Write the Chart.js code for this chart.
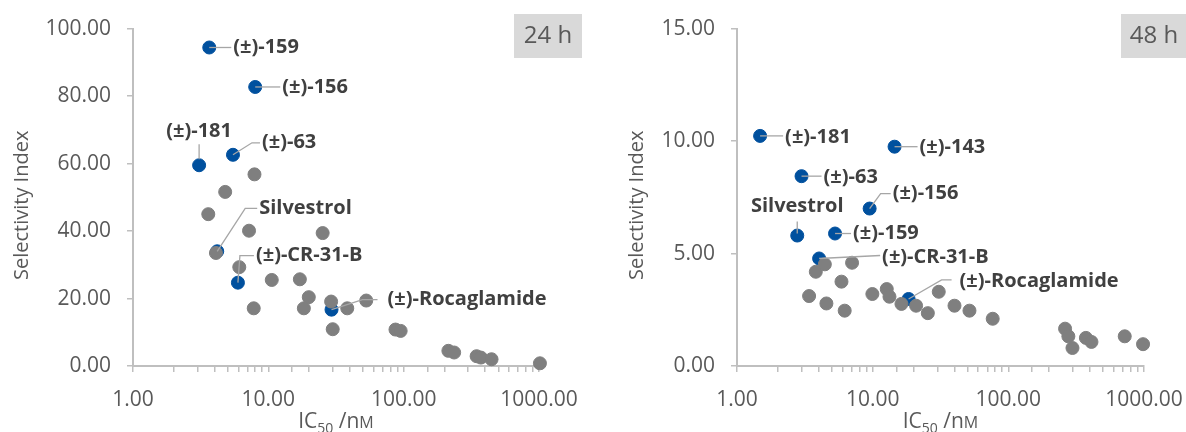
<!DOCTYPE html>
<html lang="en">
<head>
  <meta charset="UTF-8">
  <title>Selectivity Index vs IC50</title>
  <script src="https://cdn.jsdelivr.net/npm/chart.js"></script>
  <style>
    body { margin: 0; background: #fff; overflow: hidden; }
    .panel { position: absolute; top: 0; height: 432px; }
    #p24 { left: 0; width: 593px; }
    #p48 { left: 593px; width: 640px; }
  </style>
</head>
<body>
  <div class="panel" id="p24"><canvas id="chart24"></canvas></div>
  <div class="panel" id="p48"><canvas id="chart48"></canvas></div>

  <script>
  // ---- 24 h data ----
  const ic24Other = [7.9, 4.8, 3.6, 7.2, 4.1, 6.1, 10.6, 17.1, 7.8, 19.9, 18.3, 25.2, 29.1, 38.3, 52.9, 29.9, 87, 95, 214, 236, 346, 372, 446, 1016];
  const si24Other = [56.8, 51.6, 45.0, 40.1, 33.5, 29.3, 25.5, 25.7, 17.1, 20.4, 17.1, 39.4, 19.1, 17.1, 19.4, 10.9, 10.8, 10.4, 4.5, 4.0, 2.9, 2.5, 2.0, 0.8];
  const names24 = ['(±)-159', '(±)-156', '(±)-181', '(±)-63', 'Silvestrol', '(±)-CR-31-B', '(±)-Rocaglamide'];
  const ic24Named = [3.66, 8.0, 3.08, 5.48, 4.19, 5.96, 29.3];
  const si24Named = [94.4, 82.7, 59.5, 62.6, 34.0, 24.7, 16.7];
  const yTicks24 = [0, 20, 40, 60, 80, 100];

  // ---- 48 h data ----
  const ic48Other = [3.81, 4.44, 7.05, 5.89, 3.40, 4.56, 6.22, 9.95, 12.7, 13.3, 16.3, 20.9, 25.5, 30.7, 40.1, 51.7, 76.7, 262, 277, 297, 373, 410, 721, 984];
  const si48Other = [4.19, 4.52, 4.59, 3.75, 3.11, 2.78, 2.46, 3.20, 3.42, 3.08, 2.76, 2.68, 2.35, 3.30, 2.68, 2.46, 2.10, 1.66, 1.32, 0.80, 1.25, 1.07, 1.32, 0.97];
  const names48 = ['(±)-181', '(±)-143', '(±)-63', '(±)-156', 'Silvestrol', '(±)-159', '(±)-CR-31-B', '(±)-Rocaglamide'];
  const ic48Named = [1.48, 14.5, 2.99, 9.5, 2.78, 5.28, 4.03, 18.4];
  const si48Named = [10.23, 9.75, 8.44, 7.0, 5.80, 5.89, 4.78, 2.98];
  const yTicks48 = [0, 5, 10, 15];

  const xMajor = [1, 10, 100, 1000];

  // label placement: offset of text from its point (px) and leader path
  const labelLayout24 = [
    { dx: 24, dy: 0, align: 'left', path: [[0, 0], [22, 0]] },
    { dx: 27, dy: 0, align: 'left', path: [[0, 0], [25, 0]] },
    { dx: 0, dy: -34, align: 'center', path: [[0, -6], [0, -21]] },
    { dx: 29, dy: -12, align: 'left', path: [[0, 0], [19, -12], [27, -12]] },
    { dx: 42, dy: -43, align: 'left', path: [[0, 0], [28, -43], [40, -43]] },
    { dx: 18, dy: -27, align: 'left', path: [[0, 0], [2, -27], [16, -27]] },
    { dx: 56, dy: -10, align: 'left', path: [[0, 0], [31, -10], [46, -10]] }
  ];
  const labelLayout48 = [
    { dx: 25, dy: 1, align: 'left', path: [[0, 0], [23, 0]] },
    { dx: 25, dy: 1, align: 'left', path: [[0, 0], [23, 0]] },
    { dx: 22, dy: 1, align: 'left', path: [[0, 0], [20, 0]] },
    { dx: 23, dy: -15, align: 'left', path: [[0, 0], [11, -15], [21, -15]] },
    { dx: 0, dy: -29, align: 'center', path: [[0, -2], [0, -14]] },
    { dx: 18, dy: 0, align: 'left', path: [[0, 0], [16, 0]] },
    { dx: 63, dy: -1, align: 'left', path: [[0, 0], [61, -3]] },
    { dx: 51, dy: -18, align: 'left', path: [[0, 0], [33, -19], [43, -19]] }
  ];

  const GREY = '#7f7f7f';
  const BLUE = '#00509e';
  const TEXT = '#595959';
  const AXIS = '#bfbfbf';
  const FONT = '"Open Sans", sans-serif';

  // draws the data labels, the "24 h" box and the axis titles
  const annotatePlugin = {
    id: 'annotate',
    afterDatasetsDraw(chart, args, opts) {
      const ctx = chart.ctx;
      const area = chart.chartArea;
      const meta = chart.getDatasetMeta(1);
      ctx.save();

      // leader lines + labels
      meta.data.forEach((pt, i) => {
        const lay = opts.layout[i];
        ctx.strokeStyle = '#a6a6a6';
        ctx.lineWidth = 1.3;
        ctx.beginPath();
        lay.path.forEach(([dx, dy], k) => {
          if (k === 0) ctx.moveTo(pt.x + dx, pt.y + dy);
          else ctx.lineTo(pt.x + dx, pt.y + dy);
        });
        ctx.stroke();
        ctx.fillStyle = '#404040';
        ctx.font = 'bold 20px "Open Sans", sans-serif';
        ctx.textAlign = lay.align;
        ctx.textBaseline = 'middle';
        ctx.fillText(opts.names[i], pt.x + lay.dx, pt.y + lay.dy);
      });

      // time box
      ctx.fillStyle = '#d9d9d9';
      ctx.fillRect(opts.box.x, 14, opts.box.w, 44);
      ctx.fillStyle = TEXT;
      ctx.font = '24px ' + FONT;
      ctx.textAlign = 'center';
      ctx.textBaseline = 'middle';
      ctx.fillText(opts.time, opts.box.x + opts.box.w / 2, 36);

      // y title
      ctx.save();
      ctx.translate(opts.yTitleX, (area.top + area.bottom) / 2 + 8);
      ctx.rotate(-Math.PI / 2);
      ctx.font = '20px ' + FONT;
      ctx.textAlign = 'center';
      ctx.textBaseline = 'middle';
      ctx.fillText('Selectivity Index', 0, 0);
      ctx.restore();

      // x title: IC50 /nM with subscript
      const base = 428;
      const parts = [
        { t: 'IC', f: '21px ' + FONT, dy: 0 },
        { t: '50', f: '14px ' + FONT, dy: 5 },
        { t: ' /n', f: '21px ' + FONT, dy: 0 },
        { t: 'M', f: '16px ' + FONT, dy: 0 }
      ];
      let total = 0;
      parts.forEach(p => { ctx.font = p.f; total += ctx.measureText(p.t).width; });
      let x = (area.left + area.right) / 2 - total / 2;
      ctx.textAlign = 'left';
      ctx.textBaseline = 'alphabetic';
      parts.forEach(p => {
        ctx.font = p.f;
        ctx.fillText(p.t, x, base + p.dy);
        x += ctx.measureText(p.t).width;
      });
      ctx.restore();
    }
  };

  function makeChart(canvasId, d) {
    return new Chart(document.getElementById(canvasId), {
      type: 'scatter',
      data: {
        datasets: [
          {
            data: d.icOther.map((v, i) => ({ x: v, y: d.siOther[i] })),
            backgroundColor: GREY, borderColor: GREY, pointRadius: 6.5, pointHoverRadius: 6.5, clip: false
          },
          {
            data: d.icNamed.map((v, i) => ({ x: v, y: d.siNamed[i] })),
            backgroundColor: BLUE, borderColor: BLUE, pointRadius: 6.5, pointHoverRadius: 6.5, clip: false
          }
        ]
      },
      options: {
        responsive: true,
        maintainAspectRatio: false,
        animation: false,
        layout: { padding: { top: 25, right: d.padRight, left: 0, bottom: 0 } },
        plugins: {
          legend: { display: false },
          tooltip: { enabled: false },
          annotate: d.annotate
        },
        scales: {
          x: {
            type: 'logarithmic',
            min: 1, max: 1000,
            afterFit: s => { s.height = 66; },
            grid: { drawOnChartArea: false, drawTicks: true, tickLength: 6, color: AXIS, lineWidth: 1.5 },
            border: { display: true, color: AXIS, width: 2 },
            ticks: {
              autoSkip: false, maxRotation: 0, padding: 15,
              color: TEXT, font: { family: FONT, size: 21 },
              callback: v => xMajor.includes(Math.round(v)) && Math.abs(v - Math.round(v)) < 1e-6 ? Number(v).toFixed(2) : ''
            }
          },
          y: {
            min: d.yTicks[0], max: d.yTicks[d.yTicks.length - 1],
            afterFit: s => { s.width = d.axisLeft; },
            afterBuildTicks: s => { s.ticks = d.yTicks.map(v => ({ value: v })); },
            grid: { drawOnChartArea: false, drawTicks: true, tickLength: 6, color: AXIS, lineWidth: 1.5 },
            border: { display: true, color: AXIS, width: 2 },
            ticks: {
              padding: 16, color: TEXT, font: { family: FONT, size: 21 },
              callback: v => Number(v).toFixed(2)
            }
          }
        }
      },
      plugins: [annotatePlugin]
    });
  }

  window.onload = function () {
    makeChart('chart24', {
      icOther: ic24Other, siOther: si24Other, icNamed: ic24Named, siNamed: si24Named,
      yTicks: yTicks24, axisLeft: 133, padRight: 54,
      annotate: { names: names24, layout: labelLayout24, time: '24 h', box: { x: 514, w: 68 }, yTitleX: 22 }
    });
    makeChart('chart48', {
      icOther: ic48Other, siOther: si48Other, icNamed: ic48Named, siNamed: si48Named,
      yTicks: yTicks48, axisLeft: 144, padRight: 89,
      annotate: { names: names48, layout: labelLayout48, time: '48 h', box: { x: 528, w: 66 }, yTitleX: 44 }
    });
  };
  </script>
</body>
</html>
